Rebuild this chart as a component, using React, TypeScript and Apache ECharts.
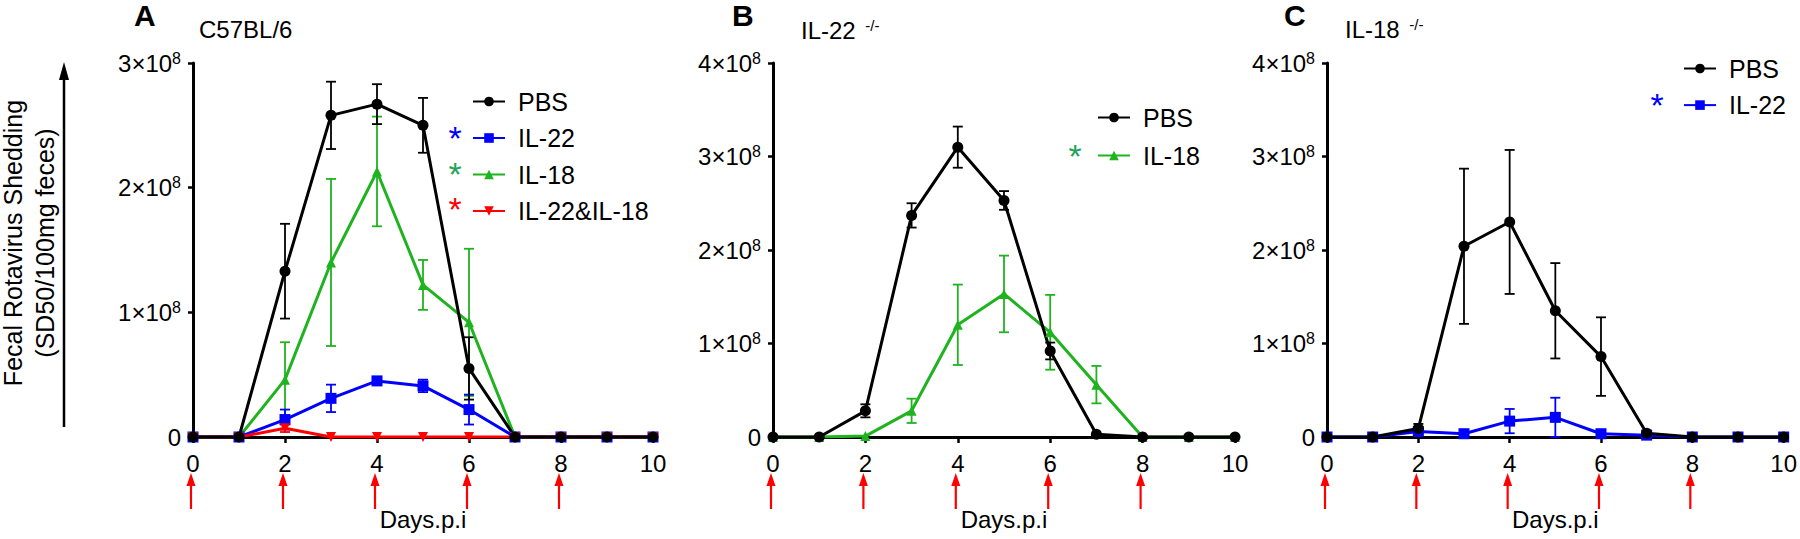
import React, { useEffect, useRef } from 'react';
import * as echarts from 'echarts';

// ---------- data ----------
const days = [0, 1, 2, 3, 4, 5, 6, 7, 8, 9, 10];
const arrowDays = [0, 2, 4, 6, 8];

// Panel A: C57BL/6
const aPBS = [0, 0, 1.33e8, 2.58e8, 2.67e8, 2.5e8, 0.55e8, 0, 0, 0, 0];
const aPBSErr = [0, 0, 0.38e8, 0.27e8, 0.16e8, 0.22e8, 0.25e8, 0, 0, 0, 0];
const aIL22 = [0, 0, 0.14e8, 0.31e8, 0.45e8, 0.41e8, 0.22e8, 0, 0, 0, 0];
const aIL22Err = [0, 0, 0.08e8, 0.11e8, 0.015e8, 0.05e8, 0.12e8, 0, 0, 0, 0];
const aIL18 = [0, 0, 0.46e8, 1.4e8, 2.13e8, 1.22e8, 0.92e8, 0, 0, 0, 0];
const aIL18Err = [0, 0, 0.3e8, 0.67e8, 0.44e8, 0.2e8, 0.59e8, 0, 0, 0, 0];
const aBoth = [0, 0, 0.07e8, 0, 0, 0, 0, 0, 0, 0, 0];
const aBothErr = [0, 0, 0.03e8, 0, 0, 0, 0, 0, 0, 0, 0];

// Panel B: IL-22 -/-
const bPBS = [0, 0, 0.28e8, 2.37e8, 3.1e8, 2.53e8, 0.92e8, 0.03e8, 0, 0, 0];
const bPBSErr = [0, 0, 0.07e8, 0.13e8, 0.22e8, 0.1e8, 0.09e8, 0, 0, 0, 0];
const bIL18 = [0, 0, 0.01e8, 0.28e8, 1.2e8, 1.53e8, 1.12e8, 0.56e8, 0, 0, 0];
const bIL18Err = [0, 0, 0, 0.13e8, 0.43e8, 0.41e8, 0.4e8, 0.2e8, 0, 0, 0];

// Panel C: IL-18 -/-
const cPBS = [0, 0, 0.09e8, 2.04e8, 2.3e8, 1.35e8, 0.86e8, 0.04e8, 0, 0, 0];
const cPBSErr = [0, 0, 0.05e8, 0.83e8, 0.77e8, 0.51e8, 0.42e8, 0, 0, 0, 0];
const cIL22 = [0, 0, 0.06e8, 0.035e8, 0.17e8, 0.21e8, 0.035e8, 0.02e8, 0, 0, 0];
const cIL22Err = [0, 0, 0.02e8, 0, 0.13e8, 0.21e8, 0.01e8, 0, 0, 0, 0];

const yMaxA = 3e8;
const yMaxBC = 4e8;

// ---------- styles ----------
const FONT = '"Liberation Sans", Arial, Helvetica, sans-serif';
const BLACK = '#000000';
const BLUE = '#0000ff';
const GREEN = '#1fb31f';
const RED = '#ff0000';
const STAR_GREEN = '#1fa45a';

function lineSeries(name: string, vals: number[], color: string, symbol: string, gi: number, size: number, rotate = 0) {
  return {
    type: 'line',
    name,
    xAxisIndex: gi,
    yAxisIndex: gi,
    data: days.map((d, i) => [d, vals[i]]),
    symbol,
    symbolSize: size,
    symbolRotate: rotate,
    showSymbol: true,
    showAllSymbol: true,
    itemStyle: { color },
    lineStyle: { color, width: 3 },
    emphasis: { disabled: true },
    z: 3,
  };
}

function errSeries(id: string, vals: number[], errs: number[], color: string, gi: number) {
  return {
    type: 'custom',
    name: id,
    xAxisIndex: gi,
    yAxisIndex: gi,
    clip: false,
    silent: true,
    z: 2,
    data: days.map((d, i) => [d, vals[i], errs[i]]),
    encode: { x: 0, y: 1 },
    renderItem: (params: any, api: any) => {
      const x = api.value(0);
      const v = api.value(1);
      const e = api.value(2);
      if (!e) return { type: 'group', children: [] };
      const top = api.coord([x, v + e]);
      const bot = api.coord([x, v - e]);
      const hw = 5;
      const st = { stroke: color, lineWidth: 1.8 };
      return {
        type: 'group',
        children: [
          { type: 'line', shape: { x1: top[0], y1: top[1], x2: bot[0], y2: bot[1] }, style: st },
          { type: 'line', shape: { x1: top[0] - hw, y1: top[1], x2: top[0] + hw, y2: top[1] }, style: st },
          { type: 'line', shape: { x1: bot[0] - hw, y1: bot[1], x2: bot[0] + hw, y2: bot[1] }, style: st },
        ],
      };
    },
  };
}

function arrowSeries(gi: number) {
  return {
    type: 'custom',
    name: 'arrows' + gi,
    xAxisIndex: gi,
    yAxisIndex: gi,
    clip: false,
    silent: true,
    z: 1,
    data: arrowDays.map((d) => [d, 0]),
    encode: { x: 0, y: 1 },
    renderItem: (params: any, api: any) => {
      const c = api.coord([api.value(0), 0]);
      const x = c[0] - 2;
      const y0 = c[1];
      return {
        type: 'group',
        children: [
          {
            type: 'polygon',
            shape: { points: [[x, y0 + 36], [x - 4.5, y0 + 49], [x + 4.5, y0 + 49]] },
            style: { fill: RED },
          },
          { type: 'line', shape: { x1: x, y1: y0 + 46, x2: x, y2: y0 + 72 }, style: { stroke: RED, lineWidth: 2.2 } },
        ],
      };
    },
  };
}

const grids = [
  { left: 193, top: 63, width: 460, height: 374 },
  { left: 773, top: 63, width: 462, height: 374 },
  { left: 1327, top: 63, width: 459, height: 374 },
];

function xAxis(gi: number) {
  return {
    type: 'value',
    gridIndex: gi,
    min: 0,
    max: 10,
    interval: 2,
    name: 'Days.p.i',
    nameLocation: 'middle',
    nameGap: 70,
    nameTextStyle: { fontSize: 24, color: BLACK, fontFamily: FONT },
    axisLine: { show: true, onZero: true, lineStyle: { color: BLACK, width: 3 } },
    axisTick: { show: true, length: 6, lineStyle: { color: BLACK, width: 2.5 } },
    splitLine: { show: false },
    axisLabel: { fontSize: 24, color: BLACK, fontFamily: FONT, margin: 14 },
  };
}

function yAxis(gi: number, max: number) {
  return {
    type: 'value',
    gridIndex: gi,
    min: 0,
    max,
    interval: 1e8,
    axisLine: { show: true, lineStyle: { color: BLACK, width: 3 } },
    axisTick: { show: true, length: 5, lineStyle: { color: BLACK, width: 2.5 } },
    splitLine: { show: false },
    axisLabel: {
      color: BLACK,
      fontFamily: FONT,
      fontSize: 24,
      margin: 12,
      formatter: (v: number) => (v === 0 ? '{a|0}' : `{a|${Math.round(v / 1e8)}×10}{b|8}`),
      rich: {
        a: { fontSize: 24, lineHeight: 26, fontFamily: FONT, color: BLACK },
        b: { fontSize: 16, lineHeight: 16, verticalAlign: 'top', fontFamily: FONT, color: BLACK },
      },
    },
  };
}

function legend(left: number, top: number, gap: number, data: string[]) {
  return {
    orient: 'vertical',
    left,
    top,
    itemGap: gap,
    itemWidth: 32,
    itemHeight: 12,
    selectedMode: false,
    data,
    textStyle: { fontSize: 25, lineHeight: 24, color: BLACK, fontFamily: FONT, padding: [0, 0, 0, 8] },
  };
}

function star(x: number, y: number, color: string) {
  return {
    type: 'text',
    x,
    y: y + 7,
    silent: true,
    style: { text: '*', fill: color, fontSize: 34, fontFamily: FONT, align: 'center', verticalAlign: 'middle' },
  };
}

function label(x: number, y: number, text: string, size: number, bold = false) {
  return {
    type: 'text',
    x,
    y,
    silent: true,
    style: {
      text,
      fill: BLACK,
      fontSize: size,
      fontFamily: FONT,
      fontWeight: bold ? 'bold' : 'normal',
      lineHeight: size,
      align: 'left',
      verticalAlign: 'middle',
      rich: {
        m: { fontSize: size, lineHeight: size, fontFamily: FONT, fill: BLACK },
        s: { fontSize: 15, lineHeight: 15, verticalAlign: 'top', fontFamily: FONT, fill: BLACK, padding: [0, 0, 0, 3] },
      },
    },
  };
}

export default function App() {
  const ref = useRef<HTMLDivElement>(null);
  useEffect(() => {
    if (!ref.current) return;
    const chart = echarts.init(ref.current, null, { renderer: 'svg' });
    chart.setOption({
      animation: false,
      backgroundColor: '#ffffff',
      textStyle: { fontFamily: FONT },
      grid: grids,
      xAxis: [xAxis(0), xAxis(1), xAxis(2)],
      yAxis: [yAxis(0, yMaxA), yAxis(1, yMaxBC), yAxis(2, yMaxBC)],
      legend: [
        legend(467, 84, 11.5, ['PBS', 'IL-22', 'IL-18', 'IL-22&IL-18']),
        legend(1092, 100, 13, ['PBS', 'IL-18']),
        legend(1678, 51, 11.6, ['PBS', 'IL-22']),
      ],
      series: [
        arrowSeries(0),
        arrowSeries(1),
        arrowSeries(2),
        // Panel A
        errSeries('eA-IL18', aIL18, aIL18Err, GREEN, 0),
        errSeries('eA-IL22', aIL22, aIL22Err, BLUE, 0),
        errSeries('eA-both', aBoth, aBothErr, RED, 0),
        errSeries('eA-PBS', aPBS, aPBSErr, BLACK, 0),
        lineSeries('IL-18', aIL18, GREEN, 'triangle', 0, 10),
        lineSeries('IL-22', aIL22, BLUE, 'rect', 0, 11),
        lineSeries('IL-22&IL-18', aBoth, RED, 'triangle', 0, 10, 180),
        lineSeries('PBS', aPBS, BLACK, 'circle', 0, 11),
        // Panel B
        errSeries('eB-IL18', bIL18, bIL18Err, GREEN, 1),
        errSeries('eB-PBS', bPBS, bPBSErr, BLACK, 1),
        lineSeries('IL-18', bIL18, GREEN, 'triangle', 1, 10),
        lineSeries('PBS', bPBS, BLACK, 'circle', 1, 11),
        // Panel C
        errSeries('eC-IL22', cIL22, cIL22Err, BLUE, 2),
        errSeries('eC-PBS', cPBS, cPBSErr, BLACK, 2),
        lineSeries('IL-22', cIL22, BLUE, 'rect', 2, 11),
        lineSeries('PBS', cPBS, BLACK, 'circle', 2, 11),
      ],
      graphic: [
        label(134, 15, 'A', 30, true),
        label(199, 29, 'C57BL/6', 24),
        label(732, 15, 'B', 30, true),
        label(801, 30, '{m|IL-22 }{s|-/-}', 24),
        label(1284, 15, 'C', 30, true),
        label(1345, 29, '{m|IL-18 }{s|-/-}', 24),
        star(455, 131.2, BLUE),
        star(455, 166.7, STAR_GREEN),
        star(455, 202.2, RED),
        star(1075, 149, STAR_GREEN),
        star(1657, 98.3, BLUE),
        {
          type: 'text',
          x: 29,
          y: 243,
          rotation: Math.PI / 2,
          silent: true,
          style: {
            text: 'Fecal Rotavirus Shedding\n(SD50/100mg feces)',
            fill: BLACK,
            fontSize: 25,
            fontFamily: FONT,
            lineHeight: 32,
            align: 'center',
            verticalAlign: 'middle',
          },
        },
        {
          type: 'line',
          silent: true,
          shape: { x1: 64, y1: 427, x2: 64, y2: 76 },
          style: { stroke: BLACK, lineWidth: 2.5 },
        },
        {
          type: 'polygon',
          silent: true,
          shape: { points: [[64, 62], [59, 80], [69, 80]] },
          style: { fill: BLACK },
        },
      ],
    });
    return () => chart.dispose();
  }, []);
  return <div ref={ref} style={{ position: 'absolute', left: 0, top: 0, width: 1800, height: 539 }} />;
}
